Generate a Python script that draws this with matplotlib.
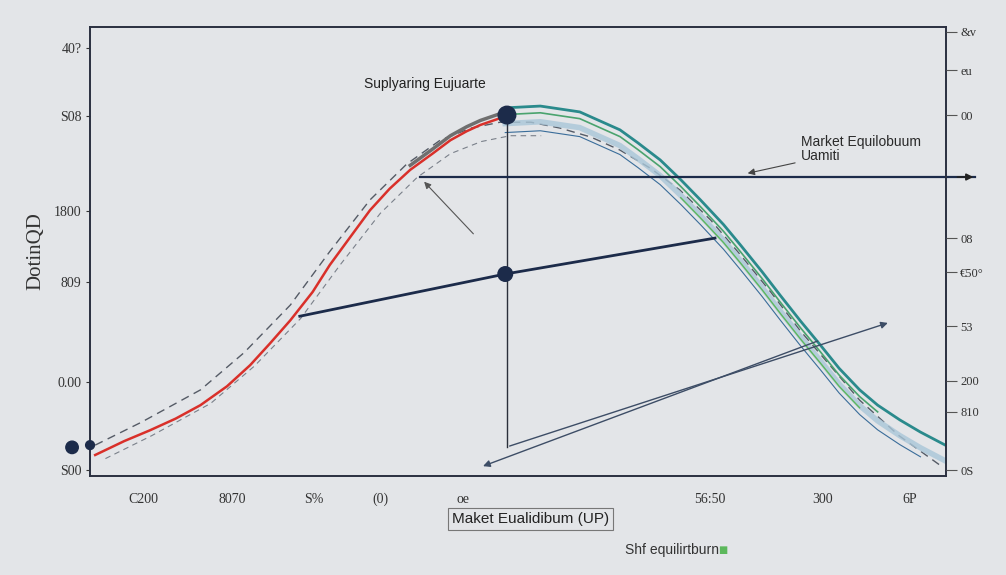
import matplotlib
matplotlib.use('Agg')
import matplotlib.pyplot as plt

# supply curve (red)
supply_x = [0.6, 4.0, 7.0, 10.0, 12.9, 16.0, 18.7, 21.0, 23.4, 26.0, 28.0, 30.5, 32.7, 35.0, 37.4, 40.0, 42.1, 44.0, 45.6, 47.9]
supply_y = [4.7, 7.8, 10.2, 12.8, 15.8, 20.0, 24.7, 29.5, 34.7, 41.0, 47.0, 53.5, 59.2, 64.0, 68.2, 71.8, 74.8, 76.8, 78.2, 79.7]

# demand curve (teal)
demand_x = [48.5, 52.6, 57.2, 61.9, 64.0, 66.6, 69.0, 71.3, 74.0, 76.0, 78.5, 80.6, 83.0, 85.3, 87.5, 89.9, 92.0, 94.6, 97.0, 99.9]
demand_y = [82.0, 82.4, 81.1, 77.1, 74.2, 70.4, 66.0, 61.5, 56.0, 51.4, 45.5, 40.3, 34.5, 29.2, 24.0, 19.2, 15.8, 12.5, 9.8, 6.9]

# dashed bell curve
dash_x = [0.6, 6.0, 12.9, 18.0, 23.4, 28.0, 32.7, 37.0, 40.9, 44.5, 47.9, 51.5, 54.9, 58.5, 61.9, 65.5, 68.9, 72.5, 76.0, 79.5, 82.9, 86.5, 89.9, 94.5, 99.3]
dash_y = [6.9, 12.0, 19.2, 27.5, 38.1, 50.0, 61.5, 69.5, 74.8, 77.5, 78.8, 78.8, 77.5, 75.5, 72.6, 68.5, 63.7, 57.0, 49.2, 41.0, 32.5, 24.5, 16.9, 9.0, 2.4]

# navy price line
price_x = [24.5, 48.5, 73.0]
price_y = [35.6, 45.0, 53.0]

eq_x = 48.7
eq_top = 80.4
eq_low = 6.5
hline_y = 66.6

left_ticks = [95.3, 80.2, 59.0, 43.2, 20.9, 1.3]
left_labels = ['40?', 'S08', '1800', '809', '0.00', 'S00']
right_ticks = [98.9, 90.4, 80.4, 53.0, 45.4, 33.4, 21.2, 14.3, 1.3]
right_labels = ['&v', 'eu', '00', '08', '€50°', '53', '200', '810', '0S']
bottom_ticks = [6.2, 16.6, 26.1, 33.9, 43.6, 72.4, 85.6, 95.8]
bottom_labels = ['C200', '8070', 'S%', '(0)', 'oe', '56:50', '300', '6P']

bg = '#e3e5e8'
navy = '#1c2b4a'

fig = plt.figure(figsize=(10.06, 5.75), dpi=100, facecolor=bg)
ax = fig.add_axes([0.0895, 0.172, 0.851, 0.781], facecolor=bg)
ax.set_xlim(0, 100)
ax.set_ylim(0, 100)
for s in ax.spines.values():
    s.set_color('#2a3040')
    s.set_linewidth(1.4)

# curves
ax.plot(dash_x, dash_y, color='#555b66', lw=1.0, ls=(0, (6, 4)))
ax.plot([v + 1.2 for v in dash_x[:12]], [v - 3.0 for v in dash_y[:12]], color='#7a808a', lw=0.8, ls=(0, (5, 4)))
ax.plot(supply_x, supply_y, color='#d9302a', lw=1.8)
ax.plot(supply_x[14:], [v + 1.0 for v in supply_y[14:]], color='#6f6f6f', lw=2.5)
ax.plot(demand_x, [v - 3.5 for v in demand_y], color='#a9c6d8', lw=4, alpha=0.8)
ax.plot(demand_x, demand_y, color='#2a8a8c', lw=2.0)
ax.plot(demand_x[:17], [v - 1.5 for v in demand_y[:17]], color='#4aa36e', lw=1.2)
ax.plot(demand_x[6:16], [v - 4.0 for v in demand_y[6:16]], color='#5cb85c', lw=1.0)
ax.plot(demand_x[:19], [v - 5.5 for v in demand_y[:19]], color='#3a6d9a', lw=0.8)

# equilibrium lines
ax.plot(price_x, price_y, color=navy, lw=2.0)
ax.plot([eq_x, eq_x], [eq_low, eq_top], color='#2a2f3a', lw=1.0)
ax.plot([38.6, 103.4], [hline_y, hline_y], color=navy, lw=1.6, clip_on=False)
ax.annotate('', xy=(103.5, hline_y), xytext=(101.0, hline_y), annotation_clip=False,
            arrowprops=dict(arrowstyle='-|>', color='#222', lw=1.2))
ax.scatter([eq_x, price_x[1]], [eq_top, price_y[1]], s=[160, 110], color=navy, zorder=5)
ax.scatter([-2.1, 0.0], [6.4, 6.9], s=[80, 40], color=navy, zorder=5, clip_on=False)

# thin arrows
ax.annotate('', xy=(93.5, 34.3), xytext=(eq_x, eq_low),
            arrowprops=dict(arrowstyle='-|>', color='#3d4d66', lw=1.0))
ax.annotate('', xy=(45.6, 2.0), xytext=(85.3, 30.3),
            arrowprops=dict(arrowstyle='-|>', color='#3d4d66', lw=1.0))
ax.annotate('', xy=(38.8, 66.0), xytext=(45.0, 53.5),
            arrowprops=dict(arrowstyle='-|>', color='#555', lw=0.8))

# text
ax.text(32.0, 86.5, 'Suplyaring Eujuarte', fontsize=10, color='#222', family='Liberation Sans')
ax.annotate('Market Equilobuum\nUamiti', xy=(76.5, 67.3), xytext=(83.0, 70.5),
            fontsize=10, color='#2a2a2a', family='Liberation Sans', linespacing=1.0,
            arrowprops=dict(arrowstyle='-|>', color='#444', lw=0.8))

# axes ticks
ax.set_yticks(left_ticks)
ax.set_yticklabels(left_labels, family='Liberation Serif', fontsize=10, color='#333')
ax.set_xticks(bottom_ticks)
ax.set_xticklabels(bottom_labels, family='Liberation Serif', fontsize=10, color='#333')
ax.tick_params(axis='y', length=3, color='#333', pad=3)
ax.tick_params(axis='x', length=0, pad=12)
ax2 = ax.twinx()
ax2.set_ylim(0, 100)
ax2.set_yticks(right_ticks)
ax2.set_yticklabels(right_labels, family='Liberation Serif', fontsize=9, color='#333')
ax2.tick_params(axis='y', length=8, color='#555', pad=2)
for s in ax2.spines.values():
    s.set_visible(False)

ax.set_ylabel('DotinQD', family='Liberation Serif', fontsize=15, color='#333', labelpad=6)

fig.text(0.527, 0.097, 'Maket Eualidibum (UP)', ha='center', va='center', fontsize=11,
         family='Liberation Sans', color='#222',
         bbox=dict(boxstyle='square,pad=0.25', fc=bg, ec='#777', lw=0.8))
fig.text(0.668, 0.043, 'Shf equilirtburn', ha='center', va='center', fontsize=10,
         family='Liberation Sans', color='#333')
fig.text(0.718, 0.043, '\u25a0', ha='center', va='center', fontsize=7, color='#5cb85c')

plt.savefig('out.png', dpi=100, facecolor=bg)
